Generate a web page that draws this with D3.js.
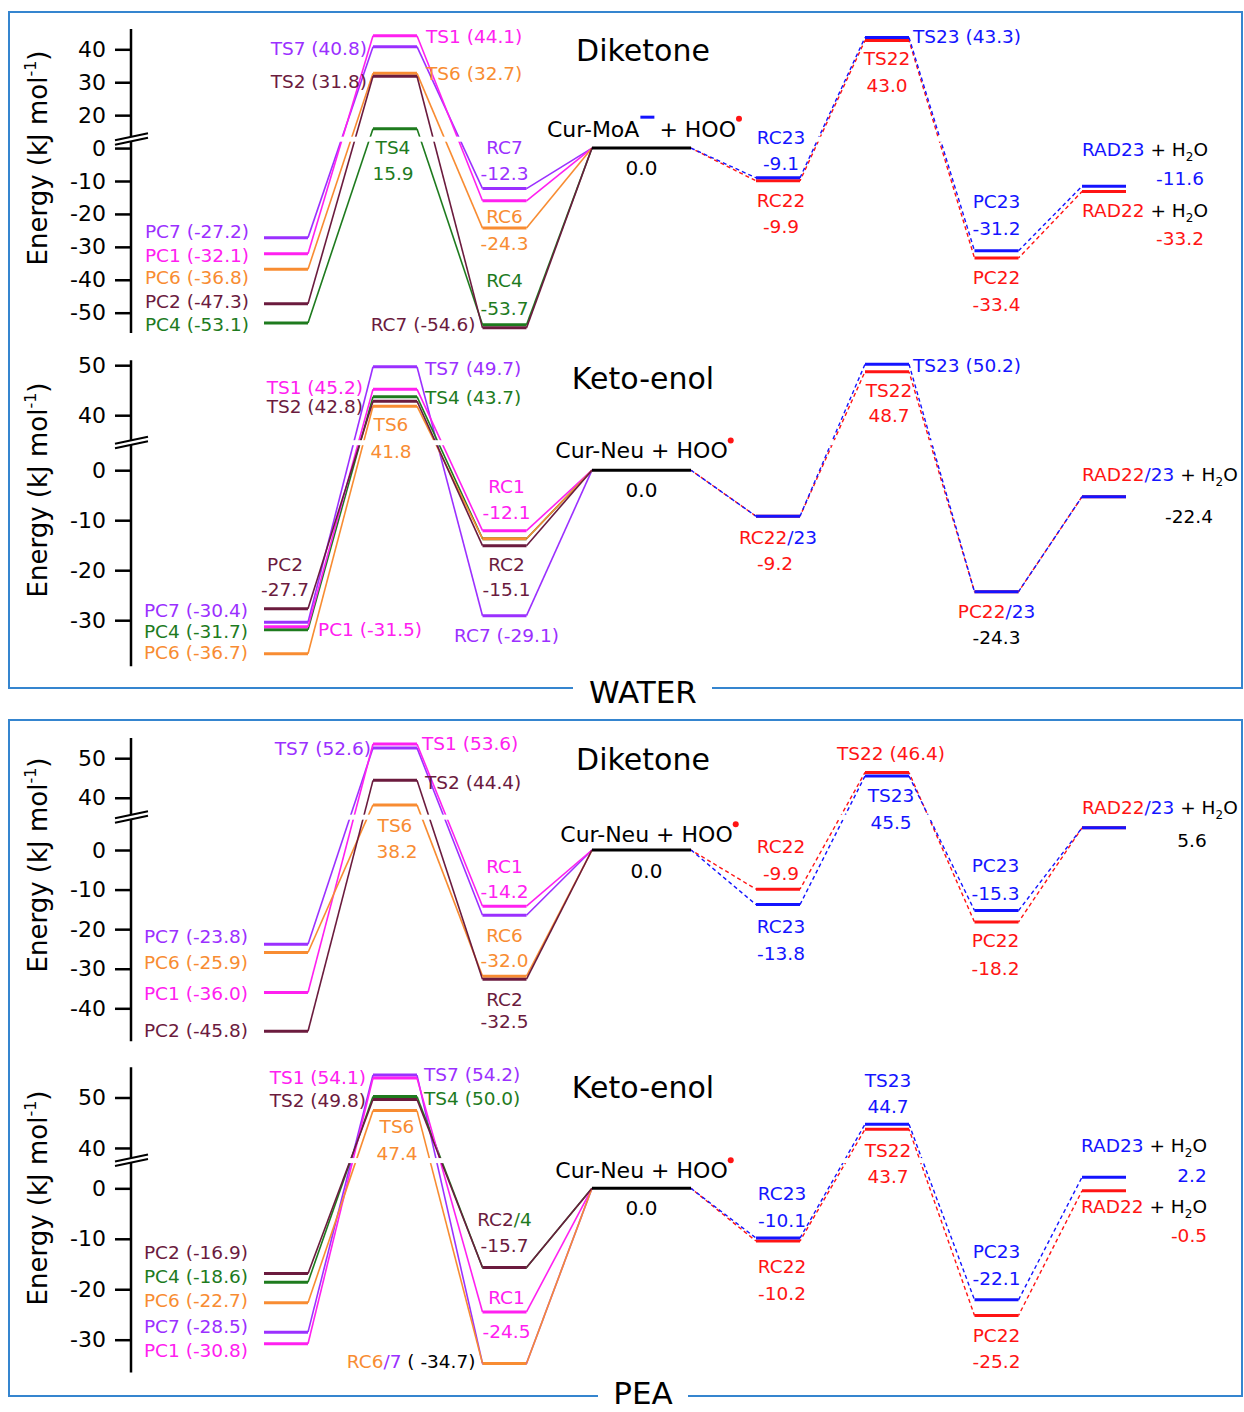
<!DOCTYPE html>
<html>
<head>
<meta charset="utf-8">
<script src="https://cdnjs.cloudflare.com/ajax/libs/d3/7.8.5/d3.min.js"></script>
<style>
  body { margin: 0; background: #fff; }
  svg { display: block; }
  text { font-family: "DejaVu Sans", sans-serif; white-space: pre; }
</style>
</head>
<body>
<script>
// series drawn left of the reactant, in drawing order (purple, green, magenta, orange, maroon)
var seriesKeys = ["7", "4", "1", "6", "2"];
// right-hand pathways: RC, TS, PC, RAD
var rightStages = ["RC'", "TS'", "PC'", "RAD"];

// WATER - Diketone
var wdPC = [-27.2, -53.1, -32.1, -36.8, -47.3];
var wdTS = [40.8, 15.9, 44.1, 32.7, 31.8];
var wdRC = [-12.3, -53.7, -16.0, -24.3, -54.6];
var wdPath22 = [-9.9, 43.0, -33.4, -13.2];
var wdPath23 = [-9.1, 43.3, -31.2, -11.6];
var wdTicks = [40, 30, 20, 0, -10, -20, -30, -40, -50];

// WATER - Keto-enol
var wkPC = [-30.4, -31.7, -31.5, -36.7, -27.7];
var wkTS = [49.7, 43.7, 45.2, 41.8, 42.8];
var wkRC = [-29.1, -13.7, -12.1, -13.7, -15.1];
var wkPath22 = [-9.2, 48.7, -24.3, -5.3];
var wkPath23 = [-9.2, 50.2, -24.3, -5.3];
var wkTicks = [50, 40, 0, -10, -20, -30];

// PEA - Diketone
var pdPC = [-23.8, null, -36.0, -25.9, -45.8];
var pdTS = [52.6, null, 53.6, 38.2, 44.4];
var pdRC = [-16.5, null, -14.2, -32.0, -32.5];
var pdPath22 = [-9.9, 46.4, -18.2, 5.6];
var pdPath23 = [-13.8, 45.5, -15.3, 5.6];
var pdTicks = [50, 40, 0, -10, -20, -30, -40];

// PEA - Keto-enol
var pkPC = [-28.5, -18.6, -30.8, -22.7, -16.9];
var pkTS = [54.2, 50.0, 54.1, 47.4, 49.8];
var pkRC = [-34.7, -15.7, -24.5, -34.7, -15.7];
var pkPath22 = [-10.2, 43.7, -25.2, -0.5];
var pkPath23 = [-10.1, 44.7, -22.1, 2.2];
var pkTicks = [50, 40, 0, -10, -20, -30];

var colors = {
  "7": "#9b30ff", "1": "#ff20f0", "6": "#f88c32", "2": "#6b1b3e", "4": "#1e7b1e",
  "22": "#ff1414", "23": "#1414ff", "0": "#000", "k": "#000"
};

var h2o = function (name) {
  return [[name, name == "RAD23" ? "23" : "22"], [" + H", "k"], ["2", "k", "sub"], ["O", "k"]];
};
var rad2223 = [["RAD22", "22"], ["/23", "23"], [" + H", "k"], ["2", "k", "sub"], ["O", "k"]];

// labels: [column, series, text, anchor, dx, dy]
var wdLabels = [
  ["TS", "7", "TS7 (40.8)", "e", -6, 8], ["TS", "1", "TS1 (44.1)", "s", 9, 7],
  ["TS", "2", "TS2 (31.8)", "e", -6, 12], ["TS", "6", "TS6 (32.7)", "s", 9, 7],
  ["TS", "4", "TS4", "m", -2, 25], ["TS", "4", "15.9", "m", -2, 51],
  ["RC", "7", "RC7", "m", 0, -34.6], ["RC", "7", "-12.3", "m", 0, -8.6],
  ["RC", "6", "RC6", "m", 0, -5.4], ["RC", "6", "-24.3", "m", 0, 22],
  ["RC", "4", "RC4", "m", 0, -38], ["RC", "4", "-53.7", "m", 0, -10],
  ["RC", "2", "RC7 (-54.6)", "e", -7, 3],
  ["PC", "7", "PC7 (-27.2)", "e", -15, 0.6], ["PC", "1", "PC1 (-32.1)", "e", -15, 8],
  ["PC", "6", "PC6 (-36.8)", "e", -15, 14.7], ["PC", "2", "PC2 (-47.3)", "e", -15, 4.5],
  ["PC", "4", "PC4 (-53.1)", "e", -15, 7.8],
  ["R", "0", "0.0", "m", 0, 27],
  ["RC'", "23", "RC23", "m", 3, -34], ["RC'", "23", "-9.1", "m", 3, -8],
  ["RC'", "22", "RC22", "m", 3, 26], ["RC'", "22", "-9.9", "m", 3, 52],
  ["TS'", "23", "TS23 (43.3)", "s", 4, 6],
  ["TS'", "22", "TS22", "m", 0, 24.6], ["TS'", "22", "43.0", "m", 0, 51.3],
  ["PC'", "23", "PC23", "m", 0, -43], ["PC'", "23", "-31.2", "m", 0, -16],
  ["PC'", "22", "PC22", "m", 0, 26], ["PC'", "22", "-33.4", "m", 0, 53],
  ["RAD", "23", h2o("RAD23"), "l", 0, -30], ["RAD", "23", "-11.6", "m", 76, -1.3],
  ["RAD", "22", h2o("RAD22"), "l", 0, 25], ["RAD", "22", "-33.2", "m", 76, 53]
];

var wkLabels = [
  ["TS", "7", "TS7 (49.7)", "s", 8, 8.6], ["TS", "1", "TS1 (45.2)", "e", -10, 4.4],
  ["TS", "2", "TS2 (42.8)", "e", -10, 12], ["TS", "4", "TS4 (43.7)", "s", 8, 7.3],
  ["TS", "6", "TS6", "m", -4, 24.6], ["TS", "6", "41.8", "m", -4, 51.5],
  ["PC", "2", "PC2", "m", -1, -37.3], ["PC", "2", "-27.7", "m", -1, -13],
  ["PC", "7", "PC7 (-30.4)", "e", -16, -5.7], ["PC", "4", "PC4 (-31.7)", "e", -16, 8],
  ["PC", "6", "PC6 (-36.7)", "e", -16, 5.2], ["PC", "1", "PC1 (-31.5)", "s", 10, 9],
  ["RC", "1", "RC1", "m", 2, -37.7], ["RC", "1", "-12.1", "m", 2, -11.7],
  ["RC", "2", "RC2", "m", 2, 25.7], ["RC", "2", "-15.1", "m", 2, 50.6],
  ["RC", "7", "RC7 (-29.1)", "m", 2, 26.3],
  ["R", "0", "0.0", "m", 0, 27],
  ["RC'", "23", [["RC22", "22"], ["/23", "23"]], "m", 0, 27.3],
  ["RC'", "23", [["-9.2", "22"]], "m", -3, 54],
  ["TS'", "23", "TS23 (50.2)", "s", 4, 7.8],
  ["TS'", "22", "TS22", "m", 2, 25.5], ["TS'", "22", "48.7", "m", 2, 50.7],
  ["PC'", "23", [["PC22", "22"], ["/23", "23"]], "m", 0, 25.8],
  ["PC'", "23", [["-24.3", "k"]], "m", 0, 52.7],
  ["RAD", "23", rad2223, "l", 0, -15.4], ["RAD", "23", [["-22.4", "k"]], "m", 85, 26.6]
];

var pdLabels = [
  ["TS", "7", "TS7 (52.6)", "e", -2, 7], ["TS", "1", "TS1 (53.6)", "s", 5, 6],
  ["TS", "2", "TS2 (44.4)", "s", 8, 8.6],
  ["TS", "6", "TS6", "m", 0, 26.8], ["TS", "6", "38.2", "m", 2, 53.4],
  ["PC", "7", "PC7 (-23.8)", "e", -16, -1.5], ["PC", "6", "PC6 (-25.9)", "e", -16, 16.5],
  ["PC", "1", "PC1 (-36.0)", "e", -16, 7.5], ["PC", "2", "PC2 (-45.8)", "e", -16, 5.5],
  ["RC", "1", "RC1", "m", 0, -33], ["RC", "1", "-14.2", "m", 0, -8],
  ["RC", "6", "RC6", "m", 0, -34.4], ["RC", "6", "-32.0", "m", 0, -9.4],
  ["RC", "2", "RC2", "m", 0, 26.6], ["RC", "2", "-32.5", "m", 0, 49.2],
  ["R", "0", "0.0", "m", 5, 28.3],
  ["RC'", "22", "RC22", "m", 3, -36], ["RC'", "22", "-9.9", "m", 3, -9],
  ["RC'", "23", "RC23", "m", 3, 28.7], ["RC'", "23", "-13.8", "m", 3, 55.4],
  ["TS'", "22", "TS22 (46.4)", "m", 4, -12.4],
  ["TS'", "23", "TS23", "m", 4, 26.3], ["TS'", "23", "45.5", "m", 4, 53],
  ["PC'", "23", "PC23", "m", -1, -38.2], ["PC'", "23", "-15.3", "m", -1, -10.5],
  ["PC'", "22", "PC22", "m", -1, 24.7], ["PC'", "22", "-18.2", "m", -1, 53],
  ["RAD", "23", rad2223, "l", 0, -13.5], ["RAD", "23", [["5.6", "k"]], "m", 88, 19]
];

var pkLabels = [
  ["TS", "1", "TS1 (54.1)", "e", -7, 6.3], ["TS", "7", "TS7 (54.2)", "s", 7, 6],
  ["TS", "2", "TS2 (49.8)", "e", -7, 7.2], ["TS", "4", "TS4 (50.0)", "s", 7, 8.5],
  ["TS", "6", "TS6", "m", 2, 22.7], ["TS", "6", "47.4", "m", 2, 49.4],
  ["PC", "2", "PC2 (-16.9)", "e", -16, -14.3], ["PC", "4", "PC4 (-18.6)", "e", -16, 1.1],
  ["PC", "6", "PC6 (-22.7)", "e", -16, 3.8], ["PC", "7", "PC7 (-28.5)", "e", -16, 0.6],
  ["PC", "1", "PC1 (-30.8)", "e", -16, 12.9],
  ["RC", "2", [["RC2", "2"], ["/4", "4"]], "m", 0, -41.5], ["RC", "2", "-15.7", "m", 0, -15.8],
  ["RC", "1", "RC1", "m", 2, -8], ["RC", "1", "-24.5", "m", 2, 26.3],
  ["RC", "6", [["RC6", "6"], ["/7", "7"], [" ( -34.7)", "k"]], "e", -7, 5],
  ["R", "0", "0.0", "m", 0, 26.7],
  ["RC'", "23", "RC23", "m", 4, -37.8], ["RC'", "23", "-10.1", "m", 4, -11.1],
  ["RC'", "22", "RC22", "m", 4, 32], ["RC'", "22", "-10.2", "m", 4, 58.7],
  ["TS'", "23", "TS23", "m", 1, -37.5], ["TS'", "23", "44.7", "m", 1, -11],
  ["TS'", "22", "TS22", "m", 1, 27.4], ["TS'", "22", "43.7", "m", 1, 54],
  ["PC'", "23", "PC23", "m", 0, -41.5], ["PC'", "23", "-22.1", "m", 0, -14.8],
  ["PC'", "22", "PC22", "m", 0, 26.2], ["PC'", "22", "-25.2", "m", 0, 52.8],
  ["RAD", "23", h2o("RAD23"), "l", -1, -25.5], ["RAD", "23", "2.2", "m", 88, 4.5],
  ["RAD", "22", h2o("RAD22"), "l", -1, 22.5], ["RAD", "22", "-0.5", "m", 85, 50.9]
];

var panels = [
  { title: "Diketone", titleY: 61, labY: 158, domain: [-50, 30], range: [312.7, 49.3], shift: 10, brk: 2.7,
    ext: [-56.2, 36.2], ticks: wdTicks, pc: wdPC, ts: wdTS, rc: wdRC, p22: wdPath22, p23: wdPath23,
    labels: wdLabels, react: { name: "Cur-MoA", minus: true, dx: 0, dy: -11.4 } },
  { title: "Keto-enol", titleY: 389, labY: 490, domain: [-30, 21], range: [620.2, 365.2], shift: 29, brk: 5.5,
    ext: [-39.2, 22], ticks: wkTicks, pc: wkPC, ts: wkTS, rc: wkRC, p22: wkPath22, p23: wkPath23,
    labels: wkLabels, react: { name: "Cur-Neu", minus: false, dx: 0, dy: -11.8 } },
  { title: "Diketone", titleY: 770, labY: 865, domain: [-40, 23.2], range: [1008.3, 758.2], shift: 26.8, brk: 8.3,
    ext: [-48.3, 28.3], ticks: pdTicks, pc: pdPC, ts: pdTS, rc: pdRC, p22: pdPath22, p23: pdPath23,
    labels: pdLabels, react: { name: "Cur-Neu", minus: false, dx: 5, dy: -7.7 } },
  { title: "Keto-enol", titleY: 1098, labY: 1198, domain: [-30, 18], range: [1339.7, 1097.5], shift: 32, brk: 5.5,
    ext: [-36.5, 24], ticks: pkTicks, pc: pkPC, ts: pkTS, rc: pkRC, p22: pkPath22, p23: pkPath23,
    labels: pkLabels, react: { name: "Cur-Neu", minus: false, dx: 0, dy: -10 } }
];

var cols = ["PC", "TS", "RC", "R", "RC'", "TS'", "PC'", "RAD"];
var colX = d3.scaleOrdinal().domain(cols).range([286, 395, 504.5, 641.5, 778, 887, 996.5, 1104]);
var colW = d3.scaleOrdinal().domain(cols).range([44, 44, 44, 99, 44, 44, 44, 44]);
var xL = function (c) { return colX(c) - colW(c) / 2; };
var xR = function (c) { return colX(c) + colW(c) / 2; };

var axisX = 131;
var svg = d3.select("body").append("svg").attr("width", 1244).attr("height", 1412);
var line = d3.line();

// push apart bars of one column that would overlap (but keep identical values merged)
function spread(obj) {
  var ks = Object.keys(obj);
  for (var it = 0; it < 6; it++) {
    ks.sort(function (a, b) { return obj[a] - obj[b]; });
    for (var i = 1; i < ks.length; i++) {
      var d = obj[ks[i]] - obj[ks[i - 1]];
      if (d > 0.01 && d < 3) {
        var m = (3 - d) / 2;
        obj[ks[i]] += m;
        obj[ks[i - 1]] -= m;
      }
    }
  }
}

function addText(g, x, y, segs, anchor, size, key) {
  if (typeof segs === "string") segs = [[segs, key]];
  var t = g.append("text").attr("x", x).attr("y", y).attr("text-anchor", anchor).attr("font-size", size);
  var low = 0;
  segs.forEach(function (s) {
    var ts = t.append("tspan").text(s[0]).attr("fill", colors[s[1]]);
    if (s[2] === "sub") { ts.attr("font-size", size * 0.65).attr("dy", 5); low = 5; }
    else if (low) { ts.attr("dy", -low); low = 0; }
  });
  return t;
}

function drawPanel(p) {
  var g = svg.append("g");
  var y = d3.scaleLinear().domain(p.domain).range(p.range);
  var lift = function (v) { return v > p.brk + p.shift ? v - p.shift : v; };
  var Y = function (v) { return y(lift(v)); };

  var pos = {};
  cols.forEach(function (c) { pos[c] = {}; });
  seriesKeys.forEach(function (k, i) {
    if (p.pc[i] == null) return;
    pos.PC[k] = Y(p.pc[i]);
    pos.TS[k] = Y(p.ts[i]);
    pos.RC[k] = Y(p.rc[i]);
  });
  pos.R["0"] = Y(0);
  rightStages.forEach(function (c, i) {
    pos[c]["22"] = Y(p.p22[i]);
    pos[c]["23"] = Y(p.p23[i]);
  });
  cols.forEach(function (c) { spread(pos[c]); });

  var y0 = pos.R["0"];

  // solid connectors on the left
  seriesKeys.forEach(function (k) {
    if (pos.PC[k] == null) return;
    var segs = [
      [[xR("PC"), pos.PC[k]], [xL("TS"), pos.TS[k]]],
      [[xR("TS"), pos.TS[k]], [xL("RC"), pos.RC[k]]],
      [[xR("RC"), pos.RC[k]], [xL("R"), y0]]
    ];
    segs.forEach(function (s) {
      g.append("path").attr("d", line(s)).attr("fill", "none")
        .attr("stroke", colors[k]).attr("stroke-width", 1.6);
    });
  });

  // dashed connectors on the right
  var seq = ["R"].concat(rightStages);
  ["22", "23"].forEach(function (k) {
    for (var i = 1; i < seq.length; i++) {
      var a = seq[i - 1], b = seq[i];
      var ya = a == "R" ? y0 : pos[a][k];
      g.append("path").attr("d", line([[xR(a), ya], [xL(b), pos[b][k]]]))
        .attr("fill", "none").attr("stroke", colors[k]).attr("stroke-width", 1.4)
        .attr("stroke-dasharray", "4,3").attr("stroke-dashoffset", k == "22" ? 2 : 0);
    }
  });

  // white stripe of the axis break
  var bY = y(p.brk);
  g.append("rect").attr("x", 150).attr("y", bY - 2.5).attr("width", 1088).attr("height", 5).attr("fill", "#fff");

  // levels
  var drawBar = function (c, k) {
    g.append("line").attr("x1", xL(c)).attr("x2", xR(c)).attr("y1", pos[c][k]).attr("y2", pos[c][k])
      .attr("stroke", colors[k]).attr("stroke-width", 3);
  };
  seriesKeys.forEach(function (k) {
    if (pos.PC[k] == null) return;
    drawBar("PC", k); drawBar("TS", k); drawBar("RC", k);
  });
  drawBar("R", "0");
  ["22", "23"].forEach(function (k) {
    rightStages.forEach(function (c) { drawBar(c, k); });
  });

  // labels
  p.labels.forEach(function (l) {
    var c = l[0], k = l[1], a = l[3], x, anchor;
    if (a == "e") { x = xL(c) + l[4]; anchor = "end"; }
    else if (a == "s") { x = xR(c) + l[4]; anchor = "start"; }
    else if (a == "l") { x = xL(c) + l[4]; anchor = "start"; }
    else { x = colX(c) + l[4]; anchor = "middle"; }
    addText(g, x, pos[c][k] + l[5], l[2], anchor, c == "R" ? 20 : 18.5, k);
  });

  // reactant label
  var r = p.react, by = y0 + r.dy, fs = 22;
  var t1 = g.append("text").attr("font-size", fs).attr("y", by).text(r.name);
  var w1 = t1.node().getComputedTextLength();
  var gap = r.minus ? 20 : 0;
  var t2 = g.append("text").attr("font-size", fs).attr("y", by).text((r.minus ? "" : " ") + "+ HOO");
  var w2 = t2.node().getComputedTextLength();
  var x0 = colX("R") + r.dx - (w1 + gap + w2) / 2;
  t1.attr("x", x0);
  t2.attr("x", x0 + w1 + gap);
  if (r.minus) {
    g.append("line").attr("x1", x0 + w1 + 1).attr("x2", x0 + w1 + 15)
      .attr("y1", by - 19.5).attr("y2", by - 19.5).attr("stroke", colors["23"]).attr("stroke-width", 3);
  }
  g.append("circle").attr("cx", x0 + w1 + gap + w2 + 3).attr("cy", by - 18).attr("r", 3).attr("fill", colors["22"]);

  // title
  g.append("text").attr("x", 643).attr("y", p.titleY).attr("text-anchor", "middle")
    .attr("font-size", 30).text(p.title);

  // y axis
  var ax = g.append("g").attr("transform", "translate(" + axisX + ",0)")
    .call(d3.axisLeft(y).tickValues(p.ticks.map(lift))
      .tickFormat(function (d, i) { return p.ticks[i]; })
      .tickSize(16).tickPadding(9));
  ax.select(".domain").remove();
  ax.selectAll(".tick line").attr("stroke", "#000").attr("stroke-width", 2.5);
  ax.selectAll(".tick text").attr("font-size", 22).attr("fill", "#000")
    .attr("font-family", "DejaVu Sans, sans-serif");
  g.append("line").attr("x1", axisX).attr("x2", axisX).attr("y1", y(p.ext[0])).attr("y2", y(p.ext[1]))
    .attr("stroke", "#000").attr("stroke-width", 2.5);

  // break marks
  g.append("polygon")
    .attr("points", [[112, bY + 1.5], [151, bY - 6.8], [151, bY - 1.8], [112, bY + 6]].join(" "))
    .attr("fill", "#fff");
  [[1, -6], [5.5, -1.5]].forEach(function (o) {
    g.append("line").attr("x1", 115).attr("x2", 148).attr("y1", bY + o[0]).attr("y2", bY + o[1])
      .attr("stroke", "#000").attr("stroke-width", 2);
  });

  // y axis title
  var yt = g.append("text").attr("transform", "translate(47," + p.labY + ") rotate(-90)")
    .attr("text-anchor", "middle").attr("font-size", 26);
  yt.append("tspan").text("Energy (kJ mol");
  yt.append("tspan").text("-1").attr("font-size", 16).attr("dy", -11);
  yt.append("tspan").text(")").attr("dy", 11);
}

panels.forEach(drawPanel);

// frames
var frame = "#3585cf";
svg.append("path").attr("d", "M573,688 H9 V12 H1242 V688 H712").attr("fill", "none")
  .attr("stroke", frame).attr("stroke-width", 2);
svg.append("path").attr("d", "M598,1396 H9 V720 H1242 V1396 H688").attr("fill", "none")
  .attr("stroke", frame).attr("stroke-width", 2);
svg.append("text").attr("x", 643).attr("y", 703).attr("text-anchor", "middle").attr("font-size", 31).text("WATER");
svg.append("text").attr("x", 643).attr("y", 1404).attr("text-anchor", "middle").attr("font-size", 31).text("PEA");
</script>
</body>
</html>
